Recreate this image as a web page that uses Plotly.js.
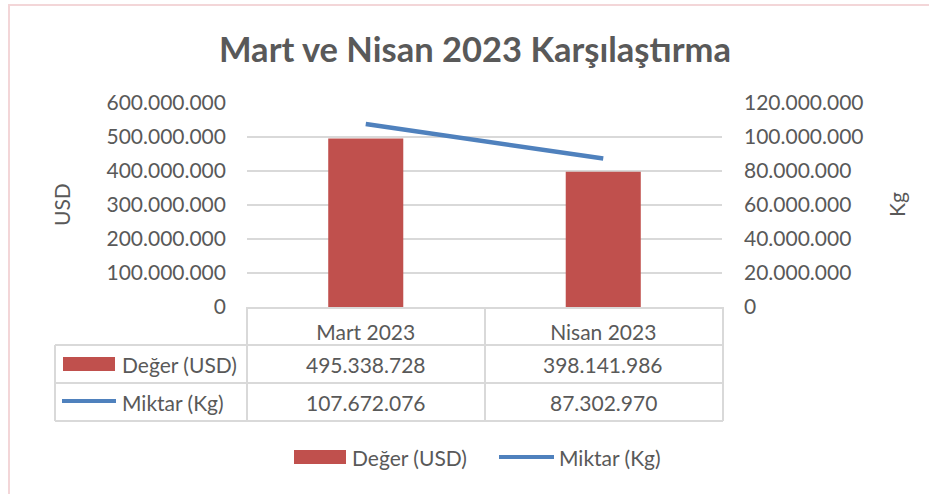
<!DOCTYPE html>
<html>
<head>
<meta charset="utf-8">
<script src="https://cdn.plot.ly/plotly-3.0.1.min.js"></script>
<style>html,body{margin:0;padding:0;background:#fff;}#chart{width:929px;height:494px;}</style>
</head>
<body>
<div id="chart"></div>
<script>
// ---- data ----
const categories = ['Mart 2023', 'Nisan 2023'];
const usdValues = [495338728, 398141986];
const kgValues = [107672076, 87302970];
const seriesNames = ['Değer (USD)', 'Miktar (Kg)'];
const chartTitle = 'Mart ve Nisan 2023 Karşılaştırma';
const leftAxisTitle = 'USD';
const rightAxisTitle = 'Kg';

// ---- styles ----
const W = 929, H = 494;
const PL = 247, PR = 722, PT = 103, PB = 307;
const barColor = '#C0504D', lineColor = '#4F81BD';
const textColor = '#595959', gridColor = '#D9D9D9';
const FONT = 'Lato, "Open Sans", sans-serif';
const FS = 21;

const px = x => (x - PL) / (PR - PL);
const py = y => (PB - y) / (PB - PT);
const fmt = n => String(n).replace(/\B(?=(\d{3})+(?!\d))/g, '.');

const shapes = [];
const annotations = [];
function hline(y, x0, x1, color, w) {
  shapes.push({type:'line', xref:'paper', yref:'paper', x0:px(x0), x1:px(x1), y0:py(y), y1:py(y), line:{color:color, width:w}});
}
function vline(x, y0, y1, color, w) {
  shapes.push({type:'line', xref:'paper', yref:'paper', x0:px(x), x1:px(x), y0:py(y0), y1:py(y1), line:{color:color, width:w}});
}
function label(text, x, y, anchor, xref) {
  annotations.push({text:text, xref:xref || 'paper', yref:'paper', x:(xref === 'x') ? x : px(x), y:py(y),
    xanchor:anchor, yanchor:'middle', showarrow:false, font:{family:FONT, size:FS, color:textColor}});
}

// outer frame
shapes.push({type:'rect', xref:'paper', yref:'paper', x0:px(9), x1:px(960), y0:py(5), y1:py(530),
  line:{color:'#F3D6D8', width:2}, fillcolor:'rgba(0,0,0,0)', layer:'below'});

// data table grid
const tb = '#D9D9D9';
vline(247, 307, 421, tb, 2);
vline(485, 307, 421, tb, 2);
vline(723, 307, 421, tb, 2);
vline(55, 345, 421, tb, 2);
hline(345, 55, 723, tb, 2);
hline(383, 55, 723, tb, 2);
hline(421, 55, 723, tb, 2);

// table legend keys
shapes.push({type:'rect', xref:'paper', yref:'paper', x0:px(63), x1:px(115), y0:py(357), y1:py(371), line:{width:0}, fillcolor:barColor});
hline(401, 62, 116, lineColor, 4);
label(seriesNames[0], 120, 364, 'left');
label(seriesNames[1], 120, 402, 'left');

// table values
categories.forEach((c, i) => {
  label(fmt(usdValues[i]), c, 364, 'center', 'x');
  label(fmt(kgValues[i]), c, 402, 'center', 'x');
});

// bottom legend
shapes.push({type:'rect', xref:'paper', yref:'paper', x0:px(294), x1:px(346), y0:py(450), y1:py(464), line:{width:0}, fillcolor:barColor});
label(seriesNames[0], 350, 457, 'left');
hline(457, 499, 554, lineColor, 4);
label(seriesNames[1], 557, 457, 'left');

// axis titles
annotations.push({text:leftAxisTitle, xref:'paper', yref:'paper', x:px(61), y:py(205), textangle:-90,
  xanchor:'center', yanchor:'middle', showarrow:false, font:{family:FONT, size:FS, color:textColor}});
annotations.push({text:rightAxisTitle, xref:'paper', yref:'paper', x:px(896), y:py(205), textangle:-90,
  xanchor:'center', yanchor:'middle', showarrow:false, font:{family:FONT, size:FS, color:textColor}});

const traces = [
  {type:'bar', name:seriesNames[0], x:categories, y:usdValues, marker:{color:barColor}, yaxis:'y', hoverinfo:'none'},
  {type:'scatter', mode:'lines', name:seriesNames[1], x:categories, y:kgValues, yaxis:'y2',
    line:{color:lineColor, width:4.5}, hoverinfo:'none'}
];

const layout = {
  width:W, height:H,
  margin:{l:PL, r:W - PR, t:PT, b:H - PB, pad:0},
  paper_bgcolor:'#fff', plot_bgcolor:'rgba(0,0,0,0)',
  separators:',.',
  showlegend:false,
  bargap:0.684,
  font:{family:FONT, size:FS, color:textColor},
  title:{text:chartTitle, xref:'container', yref:'container', x:475 / W, y:1 - 50 / H, xanchor:'center', yanchor:'middle',
    font:{family:FONT, size:34.5, color:textColor, weight:'bold'}},
  xaxis:{type:'category', showgrid:false, showline:true, linecolor:gridColor, linewidth:2, ticks:'',
    tickfont:{family:FONT, size:FS, color:textColor}, ticklabelstandoff:6, zeroline:false, fixedrange:true},
  yaxis:{range:[0, 600000000], dtick:100000000, tickformat:',d', showgrid:true, gridcolor:gridColor, gridwidth:1.5,
    zeroline:false, showline:false, ticks:'', tickfont:{family:FONT, size:FS, color:textColor}, ticklabelstandoff:20, fixedrange:true},
  yaxis2:{range:[0, 120000000], dtick:20000000, tickformat:',d', overlaying:'y', side:'right', showgrid:false,
    zeroline:false, showline:false, ticks:'', tickfont:{family:FONT, size:FS, color:textColor}, ticklabelstandoff:21, fixedrange:true},
  shapes:shapes,
  annotations:annotations
};

Plotly.newPlot('chart', traces, layout, {displayModeBar:false, staticPlot:true});
</script>
</body>
</html>
